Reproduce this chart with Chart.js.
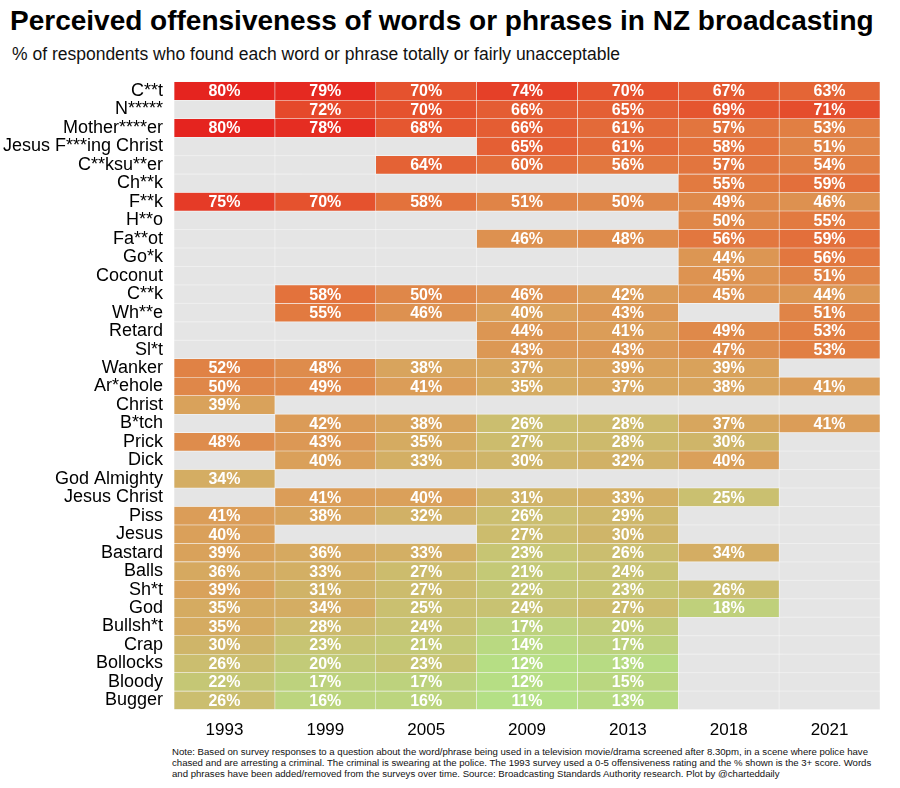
<!DOCTYPE html>
<html><head><meta charset="utf-8">
<script src="https://cdn.jsdelivr.net/npm/chart.js@4"></script>
<style>
body{margin:0;background:#fff;font-family:"Liberation Sans",Arial,sans-serif;width:900px;height:788px;position:relative;overflow:hidden}
#t{position:absolute;left:10px;top:5px;font-size:28px;font-weight:bold;color:#000;white-space:nowrap}
#s{position:absolute;left:12px;top:44px;font-size:17.5px;color:#111;white-space:nowrap}
#box{position:absolute;left:0;top:68px;width:890px;height:676px}
#n{position:absolute;left:172px;top:746px;width:710px;font-size:9.6px;line-height:11px;color:#111}
</style></head><body>
<div id="t">Perceived offensiveness of words or phrases in NZ broadcasting</div>
<div id="s">% of respondents who found each word or phrase totally or fairly unacceptable</div>
<div id="box"><canvas id="c"></canvas></div>
<div id="n">Note: Based on survey responses to a question about the word/phrase being used in a television movie/drama screened after 8.30pm, in a scene where police have chased and are arresting a criminal. The criminal is swearing at the police. The 1993 survey used a 0-5 offensiveness rating and the % shown is the 3+ score. Words and phrases have been added/removed from the surveys over time. Source: Broadcasting Standards Authority research. Plot by @charteddaily</div>
<script>
const years = ["1993","1999","2005","2009","2013","2018","2021"];
const words = ["C**t","N*****","Mother****er","Jesus F***ing Christ","C**ksu**er","Ch**k","F**k","H**o","Fa**ot","Go*k","Coconut","C**k","Wh**e","Retard","Sl*t","Wanker","Ar*ehole","Christ","B*tch","Prick","Dick","God Almighty","Jesus Christ","Piss","Jesus","Bastard","Balls","Sh*t","God","Bullsh*t","Crap","Bollocks","Bloody","Bugger"];
const _ = null;
const values = [
[80,79,70,74,70,67,63],
[_,72,70,66,65,69,71],
[80,78,68,66,61,57,53],
[_,_,_,65,61,58,51],
[_,_,64,60,56,57,54],
[_,_,_,_,_,55,59],
[75,70,58,51,50,49,46],
[_,_,_,_,_,50,55],
[_,_,_,46,48,56,59],
[_,_,_,_,_,44,56],
[_,_,_,_,_,45,51],
[_,58,50,46,42,45,44],
[_,55,46,40,43,_,51],
[_,_,_,44,41,49,53],
[_,_,_,43,43,47,53],
[52,48,38,37,39,39,_],
[50,49,41,35,37,38,41],
[39,_,_,_,_,_,_],
[_,42,38,26,28,37,41],
[48,43,35,27,28,30,_],
[_,40,33,30,32,40,_],
[34,_,_,_,_,_,_],
[_,41,40,31,33,25,_],
[41,38,32,26,29,_,_],
[40,_,_,27,30,_,_],
[39,36,33,23,26,34,_],
[36,33,27,21,24,_,_],
[39,31,27,22,23,26,_],
[35,34,25,24,27,18,_],
[35,28,24,17,20,_,_],
[30,23,21,14,17,_,_],
[26,20,23,12,13,_,_],
[22,17,17,12,15,_,_],
[26,16,16,11,13,_,_]
];
const stops = [[11,[180,224,134]],[25,[202,192,112]],[40,[218,160,90]],[55,[226,122,64]],[70,[229,82,46]],[80,[229,36,31]]];
function col(v){
  for(let i=1;i<stops.length;i++){
    if(v<=stops[i][0]){
      const a=stops[i-1],b=stops[i],t=(v-a[0])/(b[0]-a[0]);
      const c=a[1].map((x,k)=>Math.round(x+(b[1][k]-x)*t));
      return `rgb(${c})`;
    }
  }
  return 'rgb(229,36,31)';
}
const datasets = years.map((y,i)=>({
  label:y,
  data: values.map(r=>r[i]==null?null:[i,i+1]),
  backgroundColor: values.map(r=>r[i]==null?'rgba(0,0,0,0)':col(r[i])),
  borderColor:'rgba(255,255,255,0.45)',borderWidth:0.6,borderSkipped:false,
  categoryPercentage:1,barPercentage:1,grouped:false
}));
const bgPlugin={id:'bg',beforeDraw(ch){const a=ch.chartArea,x=ch.ctx;x.save();x.fillStyle='#e5e5e5';x.fillRect(a.left,a.top,a.right-a.left,a.bottom-a.top);
  x.strokeStyle='rgba(255,255,255,0.7)';x.lineWidth=0.6;
  const ys=ch.scales.y,xs=ch.scales.x;
  for(let j=0;j<=words.length;j++){const p=ys.getPixelForValue(j-0.5);x.beginPath();x.moveTo(a.left,p);x.lineTo(a.right,p);x.stroke();}
  for(let i=0;i<=years.length;i++){const p=xs.getPixelForValue(i);x.beginPath();x.moveTo(p,a.top);x.lineTo(p,a.bottom);x.stroke();}
  x.restore();}};
const lblPlugin={id:'lbl',afterDatasetsDraw(ch){const x=ch.ctx;x.save();x.fillStyle='#fff';x.font='bold 16px "Liberation Sans", Arial';x.textAlign='center';x.textBaseline='middle';
  values.forEach((r,j)=>r.forEach((v,i)=>{if(v==null)return;x.fillText(v+'%',ch.scales.x.getPixelForValue(i+0.5),ch.scales.y.getPixelForValue(j)+1);}));x.restore();}};
new Chart(document.getElementById('c'),{
  type:'bar',
  data:{labels:words,datasets},
  options:{indexAxis:'y',responsive:true,maintainAspectRatio:false,animation:false,
    layout:{padding:{left:0,right:10,top:8,bottom:0}},
    plugins:{legend:{display:false},tooltip:{enabled:false}},
    scales:{
      x:{type:'linear',min:0,max:7,border:{display:false},grid:{display:false},
        ticks:{stepSize:0.5,autoSkip:false,maxRotation:0,color:'#000',font:{size:17,family:'"Liberation Sans", Arial'},
          callback:v=>(Math.abs(v*2%2-1)<0.01)?years[Math.floor(v)]:''}},
      y:{border:{display:false},grid:{display:false},
        ticks:{autoSkip:false,color:'#000',padding:3,font:{size:18,family:'"Liberation Sans", Arial'}}}
    }},
  plugins:[bgPlugin,lblPlugin]
});
</script></body></html>
